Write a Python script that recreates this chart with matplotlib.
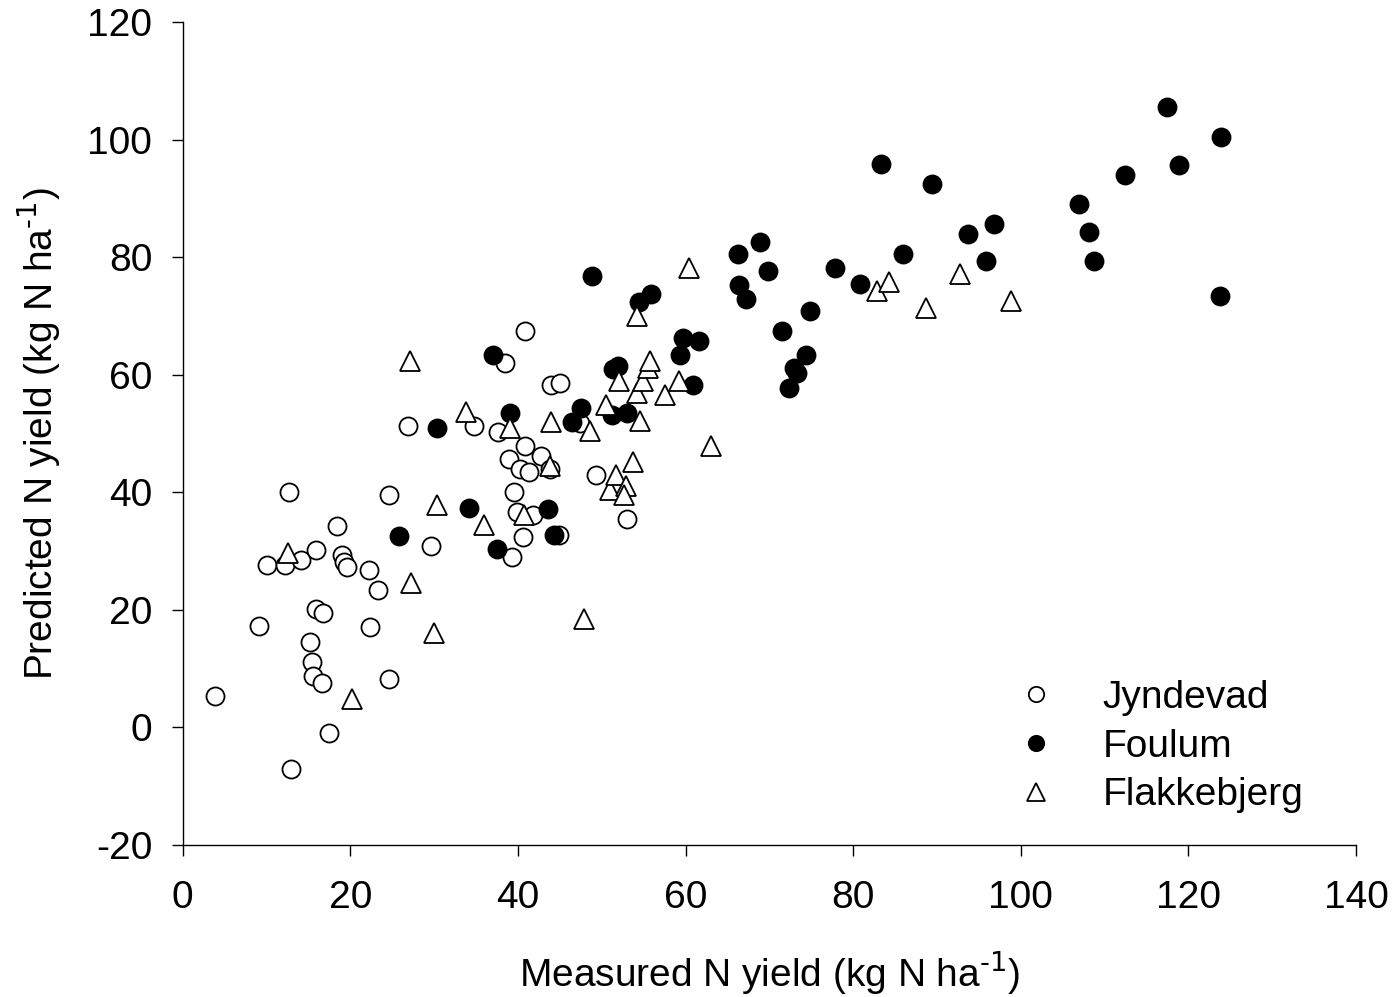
import numpy as np
import matplotlib
matplotlib.use('Agg')
import matplotlib.pyplot as plt

plt.rcParams['font.family'] = ['Liberation Sans', 'DejaVu Sans']
plt.rcParams['mathtext.default'] = 'regular'
plt.rcParams['axes.unicode_minus'] = False

## data ##

# Jyndevad (open circles)
jy_x = [3.8, 9.1, 10.0, 12.2, 12.7, 14.1, 15.9, 15.2, 15.4, 15.5, 16.6, 15.9, 16.7,
        12.9, 17.5, 18.4, 19.0, 19.3, 19.6, 22.2, 23.3, 22.4, 24.6, 24.6, 26.9, 29.6,
        34.7, 38.4, 40.8, 37.6, 38.9, 39.5, 39.9, 39.3, 40.3, 40.9, 41.3, 41.8, 40.6,
        42.8, 43.8, 43.9, 45.0, 44.9, 49.3, 53.0, 47.4]
jy_y = [5.3, 17.3, 27.7, 27.7, 40.1, 28.4, 30.1, 14.6, 11.2, 8.8, 7.5, 20.2, 19.4,
        -7.0, -0.9, 34.2, 29.4, 28.2, 27.2, 26.7, 23.3, 17.0, 39.5, 8.3, 51.2, 30.8,
        51.2, 61.9, 67.5, 50.2, 45.6, 40.0, 36.7, 28.9, 43.9, 47.8, 43.5, 36.2, 32.3,
        46.1, 43.9, 58.2, 58.5, 32.8, 43.0, 35.4, 51.7]

# Foulum (filled circles)
fo_x = [25.8, 30.4, 34.1, 37.0, 37.5, 39.1, 43.6, 44.3, 47.5, 46.5, 48.8, 51.2, 51.3,
        51.9, 53.0, 54.4, 55.9, 59.3, 59.7, 60.9, 61.6, 66.3, 66.4, 67.2, 68.9, 69.8,
        71.5, 72.3, 72.9, 73.3, 74.4, 74.8, 77.8, 80.8, 83.3, 86.0, 89.4, 93.7, 95.8,
        96.8, 106.9, 108.2, 108.8, 112.5, 117.4, 118.9, 123.9, 123.8]
fo_y = [32.5, 51.0, 37.4, 63.3, 30.3, 53.4, 37.1, 32.8, 54.4, 51.9, 76.7, 53.1, 60.9,
        61.4, 53.4, 72.3, 73.8, 63.3, 66.2, 58.2, 65.8, 80.6, 75.2, 72.8, 82.5, 77.7,
        67.4, 57.8, 61.1, 60.2, 63.4, 70.8, 78.1, 75.4, 95.9, 80.5, 92.5, 83.9, 79.4,
        85.6, 89.1, 84.2, 79.3, 93.9, 105.5, 95.6, 100.5, 73.3]

# Flakkebjerg (open triangles)
fl_x = [12.6, 20.2, 27.2, 30.0, 30.4, 27.1, 33.8, 36.0, 39.1, 40.7, 43.9, 43.8, 47.9,
        48.6, 50.5, 51.0, 51.7, 52.1, 52.9, 52.6, 53.7, 54.2, 54.2, 54.6, 54.9, 55.5,
        55.8, 57.6, 59.2, 60.4, 63.0, 82.9, 84.3, 88.7, 92.8, 98.8]
fl_y = [29.6, 4.9, 24.5, 16.0, 37.8, 62.3, 53.6, 34.5, 50.9, 36.2, 51.9, 44.4, 18.5,
        50.5, 54.9, 40.3, 42.9, 58.9, 41.0, 39.6, 45.2, 69.9, 56.8, 52.2, 59.0, 61.2,
        62.4, 56.6, 58.9, 78.1, 47.8, 74.3, 75.7, 71.3, 77.1, 72.6]

fig = plt.figure(figsize=(13.95, 9.97), dpi=100)
ax = fig.add_axes([0.131, 0.1525, 0.841, 0.8255])

ax.plot(jy_x, jy_y, 'o', ms=13, mfc='white', mec='black', mew=1.3, label='Jyndevad')
ax.plot(fo_x, fo_y, 'o', ms=13, mfc='black', mec='black', mew=1.3, label='Foulum')
ax.plot(fl_x, fl_y, '^', ms=15, mfc='white', mec='black', mew=1.3, label='Flakkebjerg')

ax.set_xlim(0, 140)
ax.set_ylim(-20, 120)
ax.set_xticks(np.arange(0, 141, 20))
ax.set_yticks(np.arange(-20, 121, 20))

for s in ['top', 'right']:
    ax.spines[s].set_visible(False)
for s in ['left', 'bottom']:
    ax.spines[s].set_linewidth(1.0)
ax.tick_params(direction='out', length=8, width=1.0, labelsize=28)
ax.tick_params(axis='x', pad=17)
ax.tick_params(axis='y', pad=14)

ax.set_xlabel(r'Measured N yield (kg N ha$^{\text{-1}}$)', fontsize=28, labelpad=24)
ax.set_ylabel(r'Predicted N yield (kg N ha$^{\text{-1}}$)', fontsize=28, labelpad=18)

leg = ax.legend(loc='lower right', bbox_to_anchor=(0.975, 0.01), frameon=False,
                fontsize=28, markerscale=0.85, handlelength=1.0, handletextpad=1.2,
                labelspacing=0.33, borderaxespad=0.2)

fig.savefig('out.png', dpi=100)
